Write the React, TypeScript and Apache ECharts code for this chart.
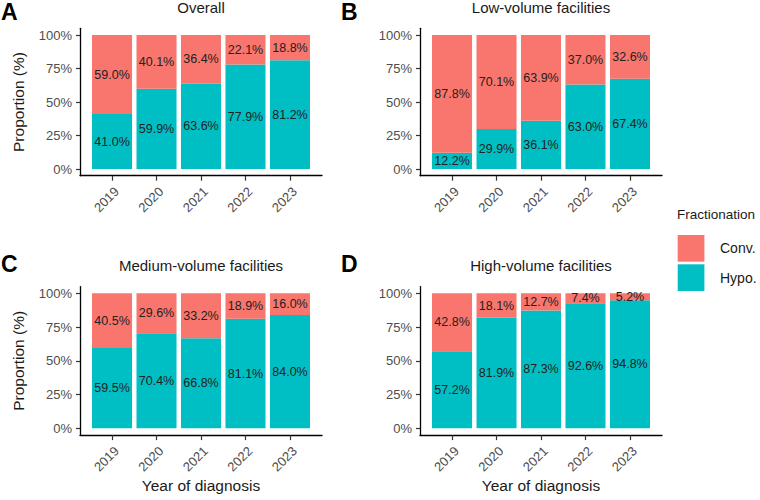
import React, { useEffect, useRef } from "react";
import * as echarts from "echarts";

// Fractionation share (%) by year of diagnosis
const years = ["2019", "2020", "2021", "2022", "2023"];

const overallHypo = [41.0, 59.9, 63.6, 77.9, 81.2];
const overallConv = [59.0, 40.1, 36.4, 22.1, 18.8];

const lowHypo = [12.2, 29.9, 36.1, 63.0, 67.4];
const lowConv = [87.8, 70.1, 63.9, 37.0, 32.6];

const mediumHypo = [59.5, 70.4, 66.8, 81.1, 84.0];
const mediumConv = [40.5, 29.6, 33.2, 18.9, 16.0];

const highHypo = [57.2, 81.9, 87.3, 92.6, 94.8];
const highConv = [42.8, 18.1, 12.7, 7.4, 5.2];

const panelTitles = [
  "Overall",
  "Low-volume facilities",
  "Medium-volume facilities",
  "High-volume facilities",
];
const panelTags = ["A", "B", "C", "D"];
const yTicks = [0, 25, 50, 75, 100];
const seriesNames = ["Conv.", "Hypo."];

const panels = [
  { hypo: overallHypo, conv: overallConv },
  { hypo: lowHypo, conv: lowConv },
  { hypo: mediumHypo, conv: mediumConv },
  { hypo: highHypo, conv: highConv },
];

const CONV_COLOR = "#F8766D";
const HYPO_COLOR = "#00BFC4";
const FONT = "'Liberation Sans', Arial, Helvetica, sans-serif";

// panel frames: [left, top, width, height]; x runs from 0.28 to 5.72 category units
const X_MIN = 0.28;
const X_MAX = 5.72;
const gridBoxes = [
  [80, 28.3, 242, 147.4],
  [420, 28.3, 242, 147.4],
  [80, 286.6, 242, 148.5],
  [420, 286.6, 242, 148.5],
];

export default function App() {
  const ref = useRef<HTMLDivElement>(null);

  useEffect(() => {
    document.body.style.margin = "0";
    if (!ref.current) return;
    const chart = echarts.init(ref.current, null, { renderer: "svg" });

    const xPositions = years.map((_, i) => i + 1);
    const n = gridBoxes.length;

    // frame grids (axes, ticks, labels) followed by bar grids (bands only)
    const grids: any[] = [];
    gridBoxes.forEach(([left, top, width, height]) => {
      grids.push({ left, top, width, height, containLabel: false, outerBoundsMode: "none" });
    });
    gridBoxes.forEach(([left, top, width, height]) => {
      const unit = width / (X_MAX - X_MIN);
      grids.push({
        left: left + (1 - 0.5 - X_MIN) * unit,
        top,
        width: years.length * unit,
        height,
        containLabel: false,
        outerBoundsMode: "none",
      });
    });

    const xAxes: any[] = [];
    const yAxes: any[] = [];
    gridBoxes.forEach((_, gi) => {
      xAxes.push({
        type: "value",
        gridIndex: gi,
        min: X_MIN,
        max: X_MAX,
        splitLine: { show: false },
        axisLine: { show: true, onZero: false, lineStyle: { color: "#000", width: 1.3 } },
        axisTick: {
          show: true,
          customValues: xPositions,
          length: 5,
          lineStyle: { color: "#333", width: 1.2 },
        },
        axisLabel: {
          show: true,
          customValues: xPositions,
          rotate: 45,
          margin: 9,
          verticalAlign: "top",
          fontSize: 13,
          color: "#4D4D4D",
          fontFamily: FONT,
          formatter: (v: number) => years[Math.round(v) - 1] ?? "",
        },
      });
      yAxes.push({
        type: "value",
        gridIndex: gi,
        min: -5,
        max: 105,
        splitLine: { show: false },
        axisLine: { show: true, onZero: false, lineStyle: { color: "#000", width: 1.3 } },
        axisTick: {
          show: true,
          customValues: yTicks,
          length: 4,
          lineStyle: { color: "#333", width: 1.2 },
        },
        axisLabel: {
          show: true,
          customValues: yTicks,
          margin: 8,
          fontSize: 13,
          color: "#4D4D4D",
          fontFamily: FONT,
          formatter: (v: number) => `${v}%`,
        },
      });
    });
    gridBoxes.forEach((_, gi) => {
      xAxes.push({
        type: "category",
        gridIndex: n + gi,
        data: years,
        show: false,
      });
      yAxes.push({
        type: "value",
        gridIndex: n + gi,
        min: -5,
        max: 105,
        show: false,
        splitLine: { show: false },
      });
    });

    const barLabel = {
      show: true,
      position: "inside",
      fontSize: 12.5,
      color: "#222",
      fontFamily: FONT,
      formatter: (p: any) => `${Number(p.value).toFixed(1)}%`,
    };

    const series: any[] = [];
    panels.forEach((pn, gi) => {
      series.push({
        type: "bar",
        name: seriesNames[1],
        xAxisIndex: n + gi,
        yAxisIndex: n + gi,
        stack: `panel${gi}`,
        barWidth: "90%",
        itemStyle: { color: HYPO_COLOR },
        label: barLabel,
        data: pn.hypo,
      });
      series.push({
        type: "bar",
        name: seriesNames[0],
        xAxisIndex: n + gi,
        yAxisIndex: n + gi,
        stack: `panel${gi}`,
        barWidth: "90%",
        itemStyle: { color: CONV_COLOR },
        label: barLabel,
        data: pn.conv,
      });
    });

    const graphics: any[] = [];
    gridBoxes.forEach(([left, top, width, height], gi) => {
      const row = gi < 2 ? 0 : 1;
      const titleY = row === 0 ? 7.5 : 265.5;
      graphics.push({
        type: "text",
        x: left + width / 2,
        y: titleY,
        style: {
          text: panelTitles[gi],
          fontSize: 15,
          fill: "#1a1a1a",
          fontFamily: FONT,
          textAlign: "center",
          textVerticalAlign: "middle",
        },
      });
      graphics.push({
        type: "text",
        x: gi % 2 === 0 ? 1 : 341,
        y: row === 0 ? 11.5 : 264,
        style: {
          text: panelTags[gi],
          fontSize: 23,
          fontWeight: "bold",
          fill: "#000",
          fontFamily: FONT,
          textAlign: "left",
          textVerticalAlign: "middle",
        },
      });
      if (gi % 2 === 0) {
        graphics.push({
          type: "text",
          x: 18.5,
          y: top + height / 2,
          rotation: Math.PI / 2,
          style: {
            text: "Proportion (%)",
            fontSize: 15.5,
            fill: "#1a1a1a",
            fontFamily: FONT,
            textAlign: "center",
            textVerticalAlign: "middle",
          },
        });
      }
      if (row === 1) {
        graphics.push({
          type: "text",
          x: left + width / 2,
          y: 485,
          style: {
            text: "Year of diagnosis",
            fontSize: 15.5,
            fill: "#1a1a1a",
            fontFamily: FONT,
            textAlign: "center",
            textVerticalAlign: "middle",
          },
        });
      }
    });

    // legend
    graphics.push({
      type: "text",
      x: 677,
      y: 214,
      style: {
        text: "Fractionation",
        fontSize: 13.5,
        fill: "#1a1a1a",
        fontFamily: FONT,
        textAlign: "left",
        textVerticalAlign: "middle",
      },
    });
    const legendColors = [CONV_COLOR, HYPO_COLOR];
    seriesNames.forEach((name, i) => {
      const y0 = 235 + i * 29.3;
      graphics.push({
        type: "rect",
        shape: { x: 677.7, y: y0, width: 26.7, height: 26.7 },
        style: { fill: legendColors[i] },
      });
      graphics.push({
        type: "text",
        x: 720,
        y: y0 + 13.4,
        style: {
          text: name,
          fontSize: 14,
          fill: "#1a1a1a",
          fontFamily: FONT,
          textAlign: "left",
          textVerticalAlign: "middle",
        },
      });
    });

    chart.setOption({
      animation: false,
      backgroundColor: "#fff",
      grid: grids,
      xAxis: xAxes,
      yAxis: yAxes,
      series,
      graphic: graphics,
    });

    return () => chart.dispose();
  }, []);

  return (
    <div
      ref={ref}
      style={{ width: 760, height: 500, position: "absolute", left: 0, top: 0 }}
    />
  );
}
